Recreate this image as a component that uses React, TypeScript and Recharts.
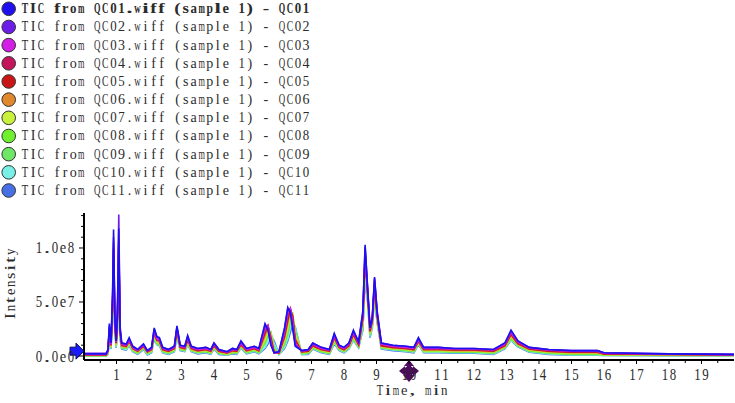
import React from "react"
import { LineChart, Line, XAxis, YAxis, ReferenceDot } from "recharts"

// retention time, min
const TIMES = [
  0, 0.68, 0.74, 0.78, 0.83, 0.88, 0.91, 0.95, 0.99, 1.03,
  1.07, 1.11, 1.16, 1.3, 1.39, 1.5, 1.65, 1.83, 1.95, 2.08,
  2.16, 2.24, 2.32, 2.42, 2.6, 2.78, 2.86, 2.96, 3.1, 3.19,
  3.3, 3.5, 3.75, 3.9, 4.0, 4.15, 4.4, 4.57, 4.7, 4.83,
  5.0, 5.24, 5.38, 5.57, 5.66, 5.75, 5.85, 6.0, 6.17, 6.27,
  6.35, 6.42, 6.5, 6.7, 6.9, 7.04, 7.3, 7.55, 7.7, 7.85,
  8.0, 8.15, 8.29, 8.45, 8.58, 8.65, 8.73, 8.8, 8.87, 8.94,
  9.02, 9.15, 9.5, 9.9, 10.15, 10.29, 10.45, 10.9, 11.4, 12.0,
  12.6, 12.95, 13.14, 13.35, 13.7, 14.3, 15.0, 15.8, 16.0, 18.0,
  20.0,
]

// intensities in units of 1e6
const QC01 = [
  2, 2, 6, 30, 12, 60, 117, 35, 14, 40,
  118, 25, 12, 11, 17, 9, 6, 11, 5, 8,
  26, 18, 17, 8, 6, 9, 28, 10, 9, 19,
  9, 7, 8, 6, 12, 6, 4, 7, 6, 14,
  7, 9, 7, 30, 24, 10, 3, 4, 26, 45,
  40, 25, 9, 5, 6, 12, 8, 6, 21, 10,
  8, 12, 24, 13, 40, 103, 60, 26, 35, 73,
  40, 12, 10, 9, 8, 17, 8, 8, 7, 7,
  6, 12, 24, 14, 8, 6, 5, 5, 3, 2,
  1.5,
]
const QC02 = [
  2.5, 2.5, 6, 28, 12, 55, 110, 34, 15, 45,
  131, 28, 12, 11, 16, 9, 6, 11, 5, 8,
  25, 18, 16, 8, 6, 9, 27, 10, 9, 18,
  9, 7, 8, 6, 12, 6, 4, 7, 6, 13,
  7, 9, 7, 29, 26, 11, 3, 4, 25, 44,
  42, 28, 10, 5, 6, 12, 8, 6, 20, 10,
  8, 12, 23, 13, 42, 101, 62, 27, 36, 72,
  42, 12, 10, 9, 8, 16, 8, 8, 7, 7,
  6, 12, 23, 14, 8, 6, 5, 5, 3, 2,
  1.5,
]
const QC03 = [
  1.5, 1.5, 5, 26, 11, 50, 105, 32, 13, 38,
  108, 24, 11, 10, 15, 8, 5, 10, 4.5, 7,
  24, 16, 15, 7, 5.5, 8, 26, 9, 8, 17,
  8, 6, 7, 5.5, 11, 5.5, 3.5, 6, 5.5, 12,
  6, 8, 6, 26, 28, 13, 3, 3.5, 22, 40,
  44, 32, 12, 4.5, 5.5, 11, 7, 5.5, 19, 9,
  7, 11, 22, 12, 38, 97, 60, 25, 34, 70,
  40, 11, 9, 8, 7, 15, 7, 7, 6.5, 6.5,
  5.5, 11, 22, 13, 7.5, 5.5, 4.5, 4.5, 2.5, 1.8,
  1.3,
]
const QC04 = [
  1.5, 1.5, 5, 25, 10, 48, 100, 31, 12, 36,
  104, 23, 10, 9.5, 14, 7.5, 5, 9.5, 4, 6.5,
  23, 15, 14, 6.5, 5, 7.5, 25, 8.5, 7.5, 16,
  7.5, 5.5, 6.5, 5, 10, 5, 3, 5.5, 5, 11,
  5.5, 7.5, 5.5, 24, 28, 15, 3, 3, 20, 37,
  44, 35, 13, 4, 5, 10, 6.5, 5, 18, 8.5,
  6.5, 10, 21, 11, 36, 94, 58, 24, 33, 68,
  38, 10, 8.5, 7.5, 6.5, 14, 6.5, 6.5, 6, 6,
  5, 10, 21, 12, 7, 5, 4, 4, 2.2, 1.6,
  1.2,
]
const QC05 = [
  1, 1, 4.5, 24, 10, 46, 98, 30, 12, 35,
  102, 22, 10, 9, 14, 7, 4.5, 9, 4, 6,
  22, 15, 14, 6, 4.5, 7, 24, 8, 7, 15,
  7, 5, 6, 4.5, 9.5, 4.5, 3, 5, 4.5, 10.5,
  5, 7, 5, 21, 28, 17, 3.5, 3, 18, 33,
  43, 37, 15, 4, 4.5, 9.5, 6, 4.5, 17, 8,
  6, 9.5, 20, 10.5, 35, 92, 57, 23, 32, 66,
  37, 9.5, 8, 7, 6, 13.5, 6, 6, 5.5, 5.5,
  4.5, 9.5, 20, 11.5, 6.5, 4.5, 3.5, 3.5, 2, 1.4,
  1,
]
const QC06 = [
  1, 1, 4, 22, 9, 44, 94, 29, 11, 33,
  98, 21, 9, 8.5, 13, 6.5, 4, 8.5, 3.5, 5.5,
  21, 14, 13, 5.5, 4, 6.5, 23, 7.5, 6.5, 14,
  6.5, 4.5, 5.5, 4, 9, 4, 2.5, 4.5, 4, 10,
  4.5, 6.5, 4.5, 18, 26, 19, 4, 2.5, 16, 30,
  41, 38, 17, 3.5, 4, 9, 5.5, 4, 16, 7.5,
  5.5, 9, 19, 10, 33, 88, 56, 22, 31, 64,
  36, 9, 7.5, 6.5, 5.5, 13, 5.5, 5.5, 5, 5,
  4, 9, 19, 11, 6, 4, 3, 3, 1.6, 1.1,
  0.8,
]
const QC07 = [
  0.5, 0.5, 3.5, 21, 8.5, 42, 90, 28, 10, 31,
  95, 20, 8.5, 8, 12, 6, 3.5, 8, 3, 5,
  20, 13, 12, 5, 3.5, 6, 22, 7, 6, 13,
  6, 4, 5, 3.5, 8.5, 3.5, 2, 4, 3.5, 9.5,
  4, 6, 4, 15, 23, 21, 5, 2.5, 14, 26,
  38, 39, 20, 3, 3.5, 8.5, 5, 3.5, 15, 7,
  5, 8.5, 18, 9.5, 31, 84, 55, 21, 30, 62,
  35, 8.5, 7, 6, 5, 12.5, 5, 5, 4.5, 4.5,
  3.5, 8.5, 18, 10.5, 5.5, 3.5, 2.5, 2.5, 1.3, 0.9,
  0.6,
]
const QC08 = [
  0.5, 0.5, 3, 20, 8, 40, 86, 27, 9.5, 29,
  92, 19, 8, 7.5, 11.5, 5.5, 3, 7.5, 2.5, 4.5,
  19, 12, 11, 4.5, 3, 5.5, 21, 6.5, 5.5, 12,
  5.5, 3.5, 4.5, 3, 8, 3, 1.5, 3.5, 3, 9,
  3.5, 5.5, 3.5, 13, 20, 22, 6, 2, 12, 23,
  35, 39, 22, 2.5, 3, 8, 4.5, 3, 14, 6.5,
  4.5, 8, 17, 9, 29, 80, 54, 20, 29, 60,
  34, 8, 6.5, 5.5, 4.5, 12, 4.5, 4.5, 4, 4,
  3, 8, 17, 10, 5, 3, 2, 2, 1, 0.7,
  0.5,
]
const QC09 = [
  0, 0, 2.5, 19, 7.5, 38, 82, 26, 9, 27,
  88, 18, 7.5, 7, 11, 5, 2.5, 7, 2, 4,
  18, 11.5, 10.5, 4, 2.5, 5, 20, 6, 5, 11.5,
  5, 3, 4, 2.5, 7.5, 2.5, 1.2, 3, 2.5, 8.5,
  3, 5, 3, 11, 17, 22, 8, 2, 10, 20,
  31, 37, 24, 2, 2.5, 7.5, 4, 2.5, 13, 6,
  4, 7.5, 16, 8.5, 27, 77, 52, 19, 28, 58,
  33, 7.5, 6, 5, 4, 11.5, 4, 4, 3.5, 3.5,
  2.5, 7.5, 16, 9.5, 4.5, 2.5, 1.5, 1.5, 0.8, 0.5,
  0.4,
]
const QC10 = [
  0, 0, 2, 17, 7, 35, 76, 24, 8, 25,
  82, 17, 7, 6, 10, 4.5, 2, 6.5, 1.5, 3.5,
  17, 11, 10, 3.5, 2, 4.5, 19, 5.5, 4.5, 11,
  4.5, 2.5, 3.5, 2, 7, 2, 1, 2.5, 2, 8,
  2.5, 4.5, 2.5, 8, 13, 21, 12, 1.5, 8, 16,
  26, 33, 26, 1.5, 2, 7, 3.5, 2, 12, 5.5,
  3.5, 7, 15, 8, 25, 72, 50, 18, 27, 56,
  32, 7, 5.5, 4.5, 3.5, 11, 3.5, 3.5, 3, 3,
  2, 7, 15, 9, 4, 2, 1, 1, 0.5, 0.3,
  0.2,
]
const QC11 = [
  0, 0, 1.5, 16, 6.5, 33, 72, 23, 7.5, 24,
  78, 16, 6.5, 5.5, 9.5, 4, 1.5, 6, 1, 3,
  16, 10.5, 9.5, 3, 1.5, 4, 18, 5, 4, 10.5,
  4, 2, 3, 1.5, 6.5, 1.5, 0.8, 2, 1.5, 7.5,
  2, 4, 2, 7, 11, 19, 14, 1.5, 7, 14,
  22, 30, 27, 1.5, 1.5, 6.5, 3, 1.5, 11.5, 5,
  3, 6.5, 14.5, 7.5, 24, 70, 49, 17, 26, 54,
  31, 6.5, 5, 4, 3, 10.5, 3, 3, 2.5, 2.5,
  1.5, 6.5, 14.5, 8.5, 3.5, 1.5, 0.8, 0.8, 0.4, 0.2,
  0.2,
]

const SERIES = [
  { key: "QC01", color: "#1e10ee", values: QC01 },
  { key: "QC02", color: "#6c1ee8", values: QC02 },
  { key: "QC03", color: "#d31ee6", values: QC03 },
  { key: "QC04", color: "#c3145c", values: QC04 },
  { key: "QC05", color: "#c81616", values: QC05 },
  { key: "QC06", color: "#e0892c", values: QC06 },
  { key: "QC07", color: "#c8f03c", values: QC07 },
  { key: "QC08", color: "#6ef02c", values: QC08 },
  { key: "QC09", color: "#6ee666", values: QC09 },
  { key: "QC10", color: "#78f0e6", values: QC10 },
  { key: "QC11", color: "#4870e6", values: QC11 },
]

const X_TICKS = [
  0.5, 1, 1.5, 2, 2.5, 3, 3.5, 4, 4.5, 5, 5.5, 6, 6.5, 7, 7.5, 8, 8.5, 9, 9.5, 10,
  10.5, 11, 11.5, 12, 12.5, 13, 13.5, 14, 14.5, 15, 15.5, 16, 16.5, 17, 17.5, 18, 18.5, 19, 19.5,
]
const Y_TICKS = [0, 10, 20, 30, 40, 50, 60, 70, 80, 90, 100, 110, 120, 130]
const Y_LABELS: Record<number, string> = { 0: "0.0e0", 50: "5.0e7", 100: "1.0e8" }

const data = TIMES.map((t, i) => {
  const row: Record<string, number> = { t }
  SERIES.forEach((s) => (row[s.key] = s.values[i]))
  return row
})

// half-width look: every glyph centred in a fixed cell, wide ones squeezed to fit
const FONT = "'Liberation Serif', 'DejaVu Serif', serif"
const INK = "#2b2b2b"
const PITCH = 8.03
const ROW = 18.17
const EM: Record<string, number> = { T: 0.611, C: 0.667, Q: 0.722, m: 0.778, w: 0.722, "0": 0.5, "1": 0.5, "5": 0.5, "8": 0.5, "7": 0.5 }

function Glyphs({ x, y, text, size, bold }: { x: number; y: number; text: string; size: number; bold?: boolean }) {
  const max = PITCH - 1.6
  return (
    <g fontFamily={FONT} fontSize={size} fill={INK} fontWeight={bold ? "bold" : "normal"}>
      {[...text].map((ch, i) => {
        if (ch === " ") return null
        const w = (EM[ch] ?? 0.45) * size * (bold ? 1.07 : 1)
        const fit = w > max ? { textLength: max, lengthAdjust: "spacingAndGlyphs" } : {}
        return (
          <text key={i} x={x + PITCH * (i + 0.5)} y={y} textAnchor="middle" {...fit}>
            {ch}
          </text>
        )
      })}
    </g>
  )
}

function XTick({ x, y, payload }: any) {
  const major = Number.isInteger(payload.value)
  const s = String(payload.value)
  return (
    <g>
      <line x1={x} x2={x} y1={y} y2={y + (major ? 4 : 3)} stroke="#000" strokeWidth={1} />
      {major && <Glyphs x={x - (s.length * PITCH) / 2} y={y + 19.5} text={s} size={16} />}
    </g>
  )
}

function YTick({ x, y, payload }: any) {
  const label = Y_LABELS[payload.value]
  return (
    <g>
      <line x1={x} x2={x - (label ? 5 : 3)} y1={y} y2={y} stroke="#000" strokeWidth={1} />
      {label && <Glyphs x={x - 9 - label.length * PITCH} y={y + 5.5} text={label} size={16} />}
    </g>
  )
}

function ArrowMark({ cx, cy }: any) {
  const pts = [
    [cx, cy], [cx - 8, cy - 8], [cx - 8, cy - 4], [cx - 14, cy - 4],
    [cx - 14, cy + 4], [cx - 8, cy + 4], [cx - 8, cy + 8],
  ]
  return <polygon points={pts.map((p) => p.join(",")).join(" ")} fill="#1a1aff" stroke="#0a0a55" strokeWidth={1} />
}

function CrossMark({ cx, cy }: any) {
  const c = cy + 11
  return (
    <g fill="#4e0a5e">
      <rect x={cx - 2} y={c - 9} width={4} height={18} />
      <rect x={cx - 8} y={c - 2} width={16} height={4} />
      <polygon points={`${cx},${c - 11} ${cx - 5},${c - 5} ${cx + 5},${c - 5}`} />
      <polygon points={`${cx},${c + 11} ${cx - 6},${c + 4} ${cx + 6},${c + 4}`} />
      <polygon points={`${cx - 10},${c} ${cx - 4},${c - 5} ${cx - 4},${c + 5}`} />
      <polygon points={`${cx + 10},${c} ${cx + 4},${c - 5} ${cx + 4},${c + 5}`} />
      <circle cx={cx} cy={c} r={5} />
    </g>
  )
}

export default function App() {
  return (
    <div style={{ position: "absolute", left: 0, top: 0, width: 735, height: 403, background: "#fff" }}>
      <LineChart width={735} height={403} data={data} margin={{ top: 213, right: 1, left: 0, bottom: 0 }}>
        <XAxis
          dataKey="t" type="number" domain={[0, 20]} ticks={X_TICKS} interval={0}
          height={43} tickSize={0} tickMargin={0} tick={<XTick />}
          axisLine={{ stroke: "#000", strokeWidth: 2 }}
        />
        <YAxis
          type="number" domain={[-3.7, 132.4]} ticks={Y_TICKS} interval={0}
          width={84} tickSize={0} tickMargin={0} tick={<YTick />}
          axisLine={{ stroke: "#000", strokeWidth: 2 }}
        />
        {[...SERIES].reverse().map((s) => (
          <Line
            key={s.key} type="linear" dataKey={s.key} stroke={s.color} strokeWidth={1.6}
            dot={false} isAnimationActive={false}
          />
        ))}
        <ReferenceDot x={0} y={4.5} r={0} ifOverflow="visible" shape={<ArrowMark />} />
        <ReferenceDot x={10} y={-3.7} r={0} ifOverflow="visible" shape={<CrossMark />} />
      </LineChart>

      {/* legend and axis titles */}
      <svg width={735} height={403} style={{ position: "absolute", left: 0, top: 0, pointerEvents: "none" }}>
        {SERIES.map((s, i) => (
          <g key={s.key}>
            <circle cx={8.7} cy={8.8 + i * ROW} r={6.8} fill={s.color} stroke="#333" strokeWidth={1} />
            <Glyphs x={21} y={13.3 + i * ROW} text={`TIC from ${s.key}.wiff (sample 1) - ${s.key}`} size={14} bold={i === 0} />
          </g>
        ))}
        <Glyphs x={376} y={395} text="Time, min" size={14.5} />
        <g transform="rotate(-90, 14.5, 320)">
          <Glyphs x={14.5} y={320} text="Intensity" size={14.5} />
        </g>
      </svg>
    </div>
  )
}
